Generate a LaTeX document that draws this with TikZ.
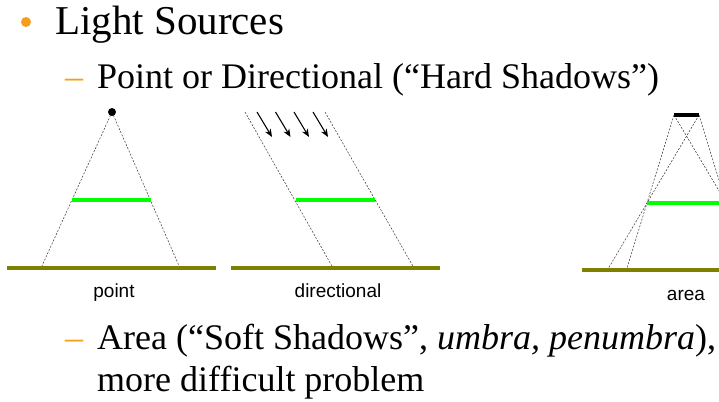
\documentclass[tikz,border=0pt]{standalone}
\usepackage{fontspec}
\setmainfont{Liberation Serif}
\setsansfont{Liberation Sans}
\usetikzlibrary{arrows.meta}

\definecolor{bulletorange}{RGB}{245,158,28}
\definecolor{occgreen}{RGB}{0,255,0}
\definecolor{groundolive}{RGB}{128,128,0}

\tikzset{
  ray/.style={dash pattern=on 2pt off 1.5pt, line width=0.5pt, black!80},
  ground/.style={groundolive, line width=4.5pt},
  occluder/.style={occgreen, line width=4pt},
  beam/.style={line width=1.1pt, -{Stealth[length=8pt,width=6.5pt]}},
  caption/.style={font=\fontsize{19}{21}\sffamily\selectfont, anchor=base, inner sep=0pt},
  slidetext/.style={anchor=base west, inner sep=0pt},
}

\begin{document}
\begin{tikzpicture}[x=1pt,y=-1pt]
        \clip (0,0) rectangle (719,401);

        % slide text
        \node[circle, fill=bulletorange, inner sep=0pt, minimum size=10pt] (bullet) at (26,22) {};
        \node[slidetext, font=\fontsize{41}{45}\selectfont] (title) at (55,35) {Light Sources};
        \node[slidetext, text=bulletorange, font=\fontsize{36}{40}\selectfont] (dashhard) at (65,89) {--};
        \node[slidetext, font=\fontsize{36}{40}\selectfont] (hard) at (97,89) {Point or Directional (``Hard Shadows'')};
        \node[slidetext, text=bulletorange, font=\fontsize{36}{40}\selectfont] (dashsoft) at (65,349) {--};
        \node[slidetext, font=\fontsize{36}{40}\selectfont] (soft) at (97,349) {Area (``Soft Shadows'', \textit{umbra, penumbra}),};
        \node[slidetext, font=\fontsize{36}{40}\selectfont] (soft2) at (97,391) {more difficult problem};

        % point light
        \coordinate (ptoccL) at (72,200);
        \coordinate (ptoccR) at (151,200);
        \coordinate (pthitL) at (41,268);
        \coordinate (pthitR) at (180,268);
        \draw[ray] (112,112) -- (pthitL);
        \draw[ray] (112,112) -- (pthitR);
        \node[circle, fill=black, inner sep=0pt, minimum size=8pt] (ptsrc) at (112,112) {};
        \draw[occluder] (ptoccL) -- (ptoccR);
        \draw[ground] (7,268) -- (216,268);
        \node[caption] (ptlabel) at (114,297) {point};

        % directional light
        \foreach \x in {257,275.5,294,313}
            \draw[beam] (\x,112) -- ++(15,25);
        \coordinate (dirtopL) at (245,112);
        \coordinate (dirtopR) at (325,112);
        \coordinate (dirhitL) at (333,268);
        \coordinate (dirhitR) at (414,268);
        \draw[ray] (dirtopL) -- (dirhitL);
        \draw[ray] (dirtopR) -- (dirhitR);
        \draw[occluder] (296,200) -- (375,200);
        \draw[ground] (231,268) -- (440,268);
        \node[caption] (dirlabel) at (338,297) {directional};

        % area light
        \coordinate (arL) at (674,115);
        \coordinate (arR) at (699,115);
        \coordinate (aroccL) at (647,203);
        \coordinate (aroccR) at (726,203);
        \draw[ray] (arL) -- (626.4,270);
        \draw[ray] (arR) -- (607.4,270);
        \draw[ray] (arL) -- (766,270);
        \draw[ray] (arR) -- (746.6,270);
        \draw[line width=4pt] (arL) -- (arR);
        \draw[occluder] (aroccL) -- (aroccR);
        \draw[ground] (582,270) -- (791,270);
        \node[caption] (arlabel) at (686,300) {area};
    \end{tikzpicture}
\end{document}
